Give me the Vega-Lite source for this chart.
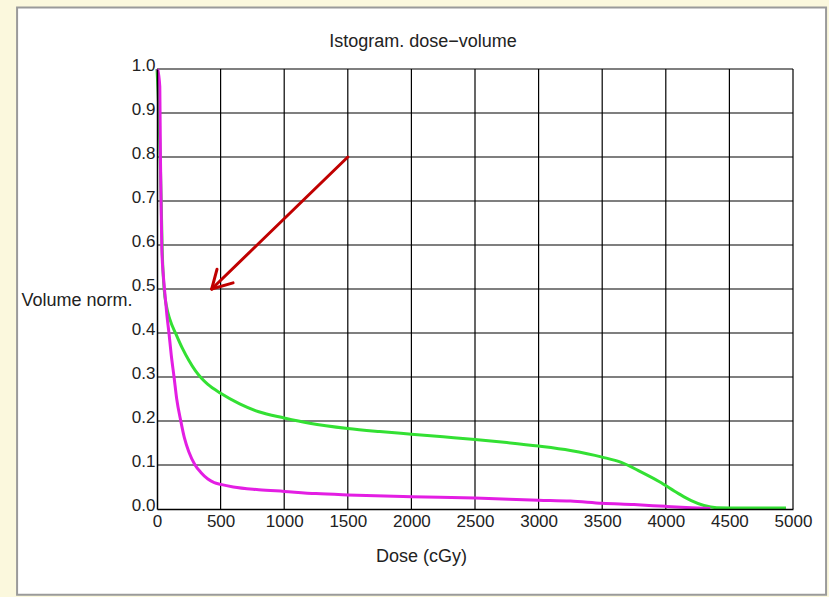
{
  "$schema": "https://vega.github.io/schema/vega-lite/v6.json",
  "width": 636,
  "height": 440,
  "autosize": "none",
  "padding": {"left": 157, "top": 69, "right": 36, "bottom": 88},
  "background": "#fbf8dd",
  "title": {
    "text": "Istogram. dose−volume",
    "font": "Liberation Sans",
    "fontSize": 18,
    "fontWeight": "normal",
    "color": "#222222",
    "anchor": "middle",
    "dx": -52,
    "offset": -45,
    "zindex": 2
  },
  "config": {
    "view": {"stroke": null},
    "axis": {
      "labelFont": "Liberation Sans",
      "labelFontSize": 17,
      "labelColor": "#222222",
      "labelOverlap": false,
      "labelFlush": false,
      "titleFont": "Liberation Sans",
      "titleFontSize": 18,
      "titleFontWeight": "normal",
      "titleColor": "#222222",
      "domainColor": "#000000",
      "domainWidth": 1.5,
      "ticks": false,
      "grid": false
    }
  },
  "datasets": {
    "frame": [{"label": "panel"}],
    "curves": [
      {"dose": 0, "vol": 1.0, "series": "green"},
      {"dose": 15, "vol": 0.9, "series": "green"},
      {"dose": 25, "vol": 0.8, "series": "green"},
      {"dose": 33, "vol": 0.7, "series": "green"},
      {"dose": 40, "vol": 0.6, "series": "green"},
      {"dose": 56, "vol": 0.5, "series": "green"},
      {"dose": 75, "vol": 0.46, "series": "green"},
      {"dose": 100, "vol": 0.432, "series": "green"},
      {"dose": 150, "vol": 0.397, "series": "green"},
      {"dose": 200, "vol": 0.365, "series": "green"},
      {"dose": 250, "vol": 0.338, "series": "green"},
      {"dose": 300, "vol": 0.315, "series": "green"},
      {"dose": 350, "vol": 0.297, "series": "green"},
      {"dose": 400, "vol": 0.283, "series": "green"},
      {"dose": 500, "vol": 0.263, "series": "green"},
      {"dose": 650, "vol": 0.239, "series": "green"},
      {"dose": 800, "vol": 0.221, "series": "green"},
      {"dose": 1000, "vol": 0.207, "series": "green"},
      {"dose": 1200, "vol": 0.195, "series": "green"},
      {"dose": 1500, "vol": 0.183, "series": "green"},
      {"dose": 1750, "vol": 0.176, "series": "green"},
      {"dose": 2000, "vol": 0.17, "series": "green"},
      {"dose": 2250, "vol": 0.164, "series": "green"},
      {"dose": 2500, "vol": 0.158, "series": "green"},
      {"dose": 2750, "vol": 0.151, "series": "green"},
      {"dose": 3000, "vol": 0.143, "series": "green"},
      {"dose": 3250, "vol": 0.133, "series": "green"},
      {"dose": 3500, "vol": 0.118, "series": "green"},
      {"dose": 3650, "vol": 0.106, "series": "green"},
      {"dose": 3800, "vol": 0.085, "series": "green"},
      {"dose": 3950, "vol": 0.062, "series": "green"},
      {"dose": 4100, "vol": 0.035, "series": "green"},
      {"dose": 4200, "vol": 0.019, "series": "green"},
      {"dose": 4300, "vol": 0.008, "series": "green"},
      {"dose": 4400, "vol": 0.003, "series": "green"},
      {"dose": 4600, "vol": 0.002, "series": "green"},
      {"dose": 4945, "vol": 0.002, "series": "green"},
      {"dose": 5, "vol": 1.0, "series": "magenta"},
      {"dose": 22, "vol": 0.96, "series": "magenta"},
      {"dose": 27, "vol": 0.8, "series": "magenta"},
      {"dose": 32, "vol": 0.7, "series": "magenta"},
      {"dose": 38, "vol": 0.59, "series": "magenta"},
      {"dose": 50, "vol": 0.53, "series": "magenta"},
      {"dose": 62, "vol": 0.49, "series": "magenta"},
      {"dose": 78, "vol": 0.44, "series": "magenta"},
      {"dose": 94, "vol": 0.4, "series": "magenta"},
      {"dose": 112, "vol": 0.35, "series": "magenta"},
      {"dose": 134, "vol": 0.3, "series": "magenta"},
      {"dose": 155, "vol": 0.25, "series": "magenta"},
      {"dose": 187, "vol": 0.2, "series": "magenta"},
      {"dose": 215, "vol": 0.162, "series": "magenta"},
      {"dose": 250, "vol": 0.13, "series": "magenta"},
      {"dose": 299, "vol": 0.1, "series": "magenta"},
      {"dose": 345, "vol": 0.083, "series": "magenta"},
      {"dose": 400, "vol": 0.068, "series": "magenta"},
      {"dose": 450, "vol": 0.06, "series": "magenta"},
      {"dose": 500, "vol": 0.056, "series": "magenta"},
      {"dose": 600, "vol": 0.05, "series": "magenta"},
      {"dose": 800, "vol": 0.044, "series": "magenta"},
      {"dose": 1000, "vol": 0.04, "series": "magenta"},
      {"dose": 1250, "vol": 0.035, "series": "magenta"},
      {"dose": 1500, "vol": 0.032, "series": "magenta"},
      {"dose": 2000, "vol": 0.028, "series": "magenta"},
      {"dose": 2500, "vol": 0.025, "series": "magenta"},
      {"dose": 3000, "vol": 0.02, "series": "magenta"},
      {"dose": 3250, "vol": 0.018, "series": "magenta"},
      {"dose": 3500, "vol": 0.013, "series": "magenta"},
      {"dose": 3750, "vol": 0.01, "series": "magenta"},
      {"dose": 4000, "vol": 0.006, "series": "magenta"},
      {"dose": 4200, "vol": 0.003, "series": "magenta"},
      {"dose": 4350, "vol": 0.001, "series": "magenta"}
    ],
    "gridx": [
      {"dose": 500}, {"dose": 1000}, {"dose": 1500}, {"dose": 2000}, {"dose": 2500},
      {"dose": 3000}, {"dose": 3500}, {"dose": 4000}, {"dose": 4500}, {"dose": 5000}
    ],
    "gridy": [
      {"vol": 0.1}, {"vol": 0.2}, {"vol": 0.3}, {"vol": 0.4}, {"vol": 0.5},
      {"vol": 0.6}, {"vol": 0.7}, {"vol": 0.8}, {"vol": 0.9}, {"vol": 1.0}
    ],
    "arrow": [
      {"dose": 1500, "vol": 0.8, "dose2": 430, "vol2": 0.5},
      {"dose": 598, "vol": 0.514, "dose2": 430, "vol2": 0.5},
      {"dose": 472, "vol": 0.545, "dose2": 430, "vol2": 0.5}
    ]
  },
  "encoding": {
    "x": {
      "type": "quantitative",
      "scale": {"domain": [0, 5000], "nice": false, "zero": false},
      "axis": {
        "title": "Dose (cGy)",
        "values": [0, 500, 1000, 1500, 2000, 2500, 3000, 3500, 4000, 4500, 5000],
        "format": "d",
        "labelPadding": 4,
        "titleX": 264,
        "titleY": 38,
        "titleAnchor": "middle",
        "titleAlign": "center",
        "titleBaseline": "top",
        "zindex": 2
      }
    },
    "y": {
      "type": "quantitative",
      "scale": {"domain": [0, 1], "nice": false, "zero": false},
      "axis": {
        "title": "Volume norm.",
        "values": [0, 0.1, 0.2, 0.3, 0.4, 0.5, 0.6, 0.7, 0.8, 0.9, 1.0],
        "format": ".1f",
        "labelPadding": 2,
        "labelBaseline": "alphabetic",
        "labelOffset": 1.5,
        "titleAngle": 0,
        "titleAlign": "left",
        "titleBaseline": "middle",
        "titleX": -136,
        "titleY": 231,
        "zindex": 2
      }
    }
  },
  "layer": [
    {
      "data": {"name": "frame"},
      "mark": {"type": "rect", "fill": "#ffffff", "stroke": "#9a9a9a", "strokeWidth": 2, "clip": false},
      "encoding": {
        "x": {"datum": -1100, "type": "quantitative"},
        "x2": {"datum": 5260},
        "y": {"datum": 1.14, "type": "quantitative"},
        "y2": {"datum": -0.195}
      }
    },
    {
      "data": {"name": "gridx"},
      "mark": {"type": "rule", "color": "#000000", "strokeWidth": 1.2},
      "encoding": {"x": {"field": "dose", "type": "quantitative"}}
    },
    {
      "data": {"name": "gridy"},
      "mark": {"type": "rule", "color": "#000000", "strokeWidth": 1.2},
      "encoding": {"y": {"field": "vol", "type": "quantitative"}}
    },
    {
      "data": {"name": "curves"},
      "mark": {"type": "line", "strokeWidth": 3, "interpolate": "monotone"},
      "encoding": {
        "x": {"field": "dose", "type": "quantitative"},
        "y": {"field": "vol", "type": "quantitative"},
        "color": {
          "field": "series",
          "type": "nominal",
          "scale": {"domain": ["magenta", "green"], "range": ["#e31ee3", "#33e033"]},
          "legend": null
        },
        "order": {"field": "dose", "type": "quantitative"}
      }
    },
    {
      "data": {"name": "arrow"},
      "mark": {"type": "rule", "color": "#c00000", "strokeWidth": 3, "strokeCap": "round"},
      "encoding": {
        "x": {"field": "dose", "type": "quantitative"},
        "y": {"field": "vol", "type": "quantitative"},
        "x2": {"field": "dose2"},
        "y2": {"field": "vol2"}
      }
    }
  ]
}
